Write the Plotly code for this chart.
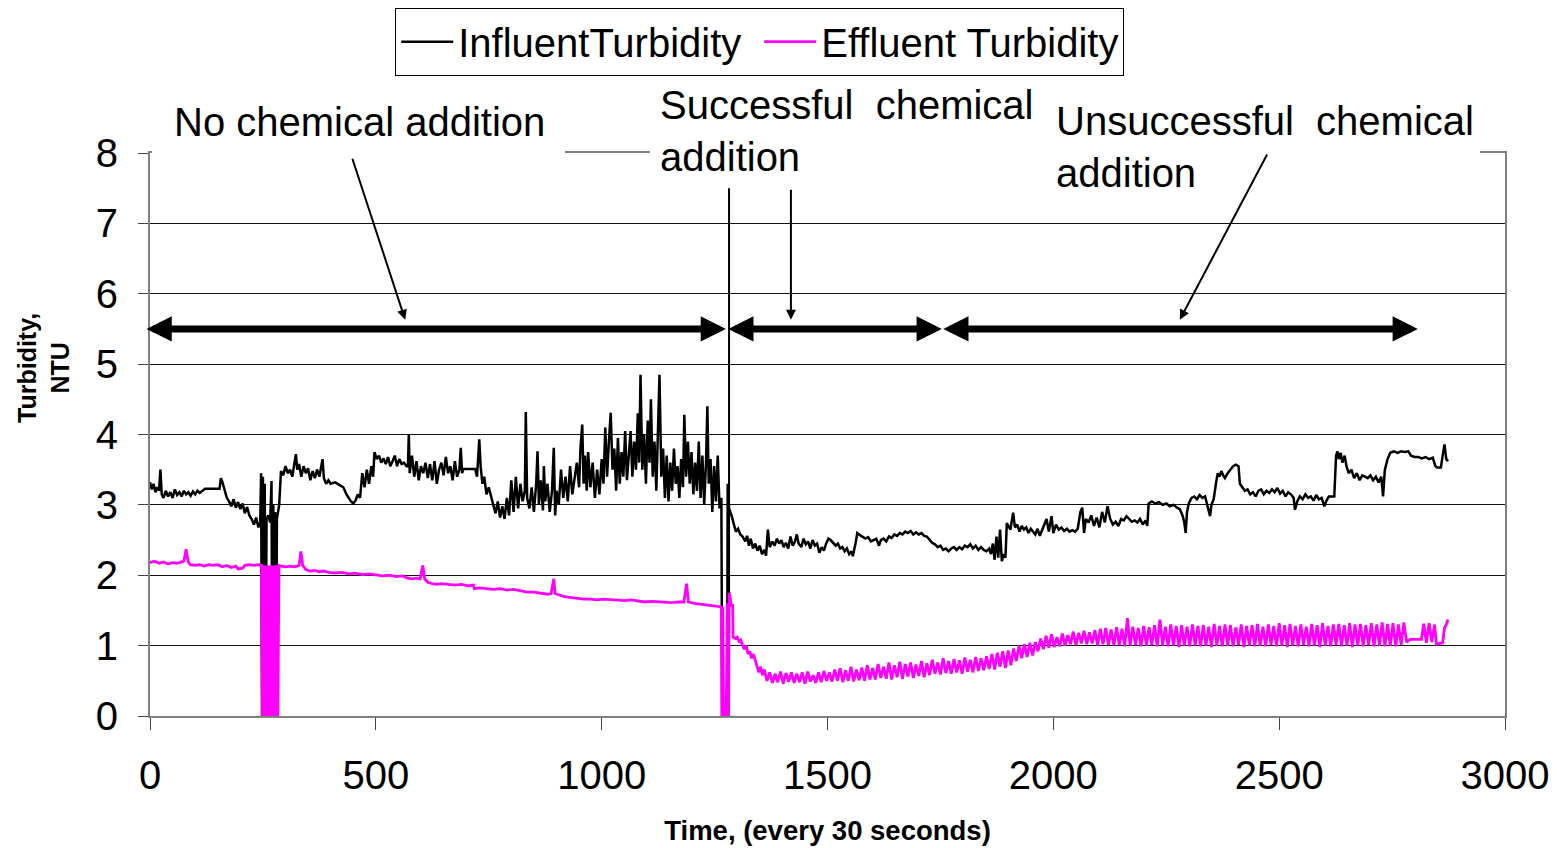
import plotly.graph_objects as go

# ---------------- data (time index, NTU) ----------------
inf_points = [
    (0,3.32),(4,3.22),(8,3.30),(12,3.18),(16,3.25),(20,3.20),(23,3.50),(26,3.15),(30,3.10),(35,3.20),
    (40,3.12),(45,3.18),(50,3.10),(55,3.22),(60,3.14),(65,3.18),(70,3.12),(75,3.20),(80,3.15),(85,3.18),
    (90,3.13),(95,3.19),(100,3.15),(105,3.20),(110,3.17),(122,3.23),(154,3.23),(157,3.38),(160,3.33),(165,3.22),
    (170,3.10),(175,3.05),(180,2.98),(185,3.08),(190,2.96),(195,3.04),(200,2.94),(205,3.02),(210,2.88),(215,2.97),
    (220,2.85),(225,2.80),(230,2.72),(235,2.82),(240,2.68),(244,2.75),(246,3.45),(248,0),(250,3.40),(252,0),
    (254,3.30),(256,0),(258,2.80),(262,2.85),(266,2.75),(269,3.34),(271,0),(273,3.00),(275,0),(277,2.90),
    (279,0),(281,2.80),(286,3.0),(290,3.48),(295,3.42),(300,3.55),(305,3.45),(310,3.50),(315,3.40),(323,3.72),(326,3.50),
    (330,3.58),(335,3.40),(340,3.55),(345,3.45),(350,3.52),(355,3.35),(360,3.48),(365,3.38),(370,3.50),(375,3.40),
    (382,3.65),(385,3.38),(390,3.30),(395,3.35),(400,3.30),(410,3.32),(420,3.28),(428,3.25),(435,3.15),(440,3.10),
    (445,3.05),(450,3.02),(455,3.06),(460,3.15),(465,3.10),(470,3.45),(475,3.25),(480,3.50),(485,3.30),(490,3.55),
    (494,3.40),(497,3.75),(502,3.65),(507,3.70),(512,3.60),(517,3.66),(522,3.58),(527,3.68),(532,3.55),(537,3.62),
    (542,3.70),(547,3.55),(552,3.65),(557,3.58),(562,3.60),(568,3.55),(571,3.55),(573,4.00),(575,3.45),(580,3.70),
    (585,3.40),(590,3.62),(595,3.35),(600,3.55),(605,3.45),(610,3.60),(615,3.38),(620,3.58),(625,3.35),(630,3.62),
    (635,3.30),(640,3.50),(645,3.60),(650,3.42),(655,3.68),(660,3.45),(665,3.55),(670,3.35),(675,3.62),(680,3.40),
    (685,3.50),(688,3.81),(691,3.45),(694,3.51),(720,3.51),(724,3.40),(729,3.93),(732,3.55),(736,3.30),(740,3.40),
    (745,3.15),(750,3.25),(755,3.10),(760,3.00),(765,2.88),(770,3.05),(775,2.82),(780,2.98),(785,2.80),(790,3.10),
    (795,2.85),(800,3.35),(805,2.90),(810,3.40),(815,2.95),(820,3.30),(825,3.05),(830,3.20),(832,4.32),(835,3.10),
    (840,2.95),(845,3.25),(850,2.90),(855,3.30),(858,3.76),(861,3.00),(865,3.35),(870,2.92),(872,3.55),(875,3.05),
    (880,3.30),(885,2.90),(890,3.20),(894,3.81),(897,2.85),(900,3.20),(905,3.00),(910,3.50),(915,3.10),(920,3.40),
    (925,3.05),(930,3.55),(935,3.15),(940,3.35),(945,3.60),(950,3.25),(953,3.80),(957,4.14),(960,3.30),(963,3.70),
    (967,3.20),(970,3.75),(975,3.25),(980,3.60),(985,3.10),(990,3.50),(995,3.15),(1000,3.65),(1004,3.30),(1008,4.10),
    (1012,3.40),(1016,3.90),(1020,4.31),(1024,3.50),(1028,3.80),(1032,3.20),(1036,3.95),(1040,3.30),(1044,3.75),(1048,3.40),
    (1052,4.05),(1056,3.35),(1060,3.70),(1064,4.05),(1068,3.40),(1072,3.90),(1076,3.50),(1080,4.30),(1083,3.60),(1086,4.85),
    (1090,3.50),(1094,4.00),(1098,3.30),(1102,4.20),(1106,3.60),(1109,4.50),(1113,3.40),(1117,3.90),(1121,3.20),(1125,4.30),
    (1128,4.85),(1132,3.40),(1136,3.80),(1140,3.10),(1144,3.70),(1148,3.05),(1152,3.60),(1156,3.20),(1160,3.80),(1164,3.30),
    (1168,3.55),(1172,3.10),(1176,3.65),(1180,3.25),(1183,4.28),(1187,3.40),(1191,3.90),(1195,3.30),(1199,3.75),(1203,3.15),
    (1207,3.60),(1211,3.20),(1215,3.90),(1219,3.10),(1223,3.70),(1227,3.00),(1231,3.60),(1234,4.40),(1237,3.30),(1241,3.65),
    (1245,2.90),(1249,3.55),(1253,3.05),(1257,3.70),(1261,2.95),(1265,3.10),(1267,0),(1276,0),(1278,0.5),(1279,3.30),
    (1282,2.95),(1288,2.84),(1292,2.72),(1297,2.62),(1302,2.66),(1307,2.58),(1312,2.55),(1318,2.48),(1322,2.56),(1326,2.42),
    (1330,2.52),(1335,2.38),(1340,2.45),(1345,2.35),(1350,2.42),(1355,2.30),(1360,2.36),(1364,2.28),(1368,2.65),(1372,2.40),
    (1378,2.48),(1383,2.42),(1388,2.52),(1393,2.45),(1398,2.50),(1403,2.40),(1408,2.46),(1413,2.38),(1418,2.55),(1423,2.42),
    (1428,2.48),(1432,2.58),(1436,2.45),(1442,2.40),(1447,2.52),(1452,2.44),(1457,2.48),(1462,2.38),(1467,2.50),(1472,2.42),
    (1477,2.45),(1482,2.32),(1487,2.40),(1492,2.35),(1497,2.45),(1502,2.52),(1507,2.50),(1512,2.46),(1518,2.42),(1523,2.45),
    (1528,2.38),(1533,2.40),(1538,2.34),(1543,2.38),(1548,2.30),(1553,2.34),(1556,2.27),(1562,2.45),(1566,2.60),(1572,2.57),
    (1578,2.55),(1584,2.52),(1590,2.54),(1596,2.48),(1602,2.50),(1608,2.52),(1614,2.42),(1618,2.50),(1624,2.52),(1630,2.48),
    (1636,2.55),(1642,2.53),(1648,2.58),(1654,2.56),(1660,2.60),(1666,2.58),(1672,2.62),(1678,2.60),(1684,2.63),(1690,2.58),
    (1696,2.61),(1702,2.58),(1708,2.60),(1714,2.56),(1720,2.55),(1726,2.50),(1732,2.46),(1738,2.44),(1744,2.40),(1750,2.42),
    (1756,2.36),(1762,2.38),(1768,2.34),(1774,2.38),(1780,2.40),(1786,2.36),(1792,2.40),(1798,2.37),(1804,2.42),(1810,2.40),
    (1816,2.44),(1822,2.38),(1828,2.42),(1834,2.36),(1840,2.40),(1846,2.36),(1852,2.34),(1858,2.38),(1862,2.30),(1866,2.45),
    (1870,2.22),(1874,2.55),(1878,2.25),(1882,2.65),(1886,2.20),(1890,2.30),(1894,2.25),(1897,2.74),(1900,2.70),(1905,2.65),
    (1911,2.89),(1915,2.68),(1920,2.72),(1925,2.62),(1930,2.70),(1935,2.65),(1940,2.68),(1945,2.60),(1950,2.66),(1955,2.62),
    (1960,2.58),(1965,2.66),(1970,2.56),(1975,2.64),(1980,2.72),(1985,2.80),(1990,2.62),(1996,2.84),(2000,2.60),(2006,2.72),
    (2012,2.65),(2018,2.68),(2024,2.63),(2030,2.66),(2036,2.62),(2042,2.64),(2048,2.62),(2054,2.66),(2060,2.90),(2064,2.96),
    (2068,2.60),(2072,2.80),(2078,2.75),(2084,2.85),(2090,2.70),(2096,2.82),(2102,2.68),(2108,2.90),(2114,2.75),(2120,2.98),
    (2126,2.80),(2132,2.72),(2138,2.76),(2144,2.70),(2150,2.80),(2156,2.78),(2162,2.84),(2168,2.80),(2174,2.76),(2180,2.78),
    (2186,2.75),(2192,2.80),(2198,2.72),(2204,2.78),(2208,2.70),(2211,3.02),(2218,3.05),(2226,3.02),(2234,3.04),(2242,3.00),
    (2250,3.02),(2258,2.98),(2266,3.00),(2274,2.96),(2280,2.94),(2286,2.85),(2290,2.75),(2293,2.60),(2296,2.90),(2300,3.02),
    (2306,3.10),(2312,3.12),(2318,3.08),(2324,3.14),(2330,3.10),(2336,3.12),(2340,3.00),(2344,2.90),(2347,2.84),(2350,3.00),
    (2355,3.08),(2360,3.30),(2364,3.45),(2368,3.40),(2372,3.48),(2376,3.42),(2380,3.38),(2386,3.45),(2392,3.50),(2398,3.55),
    (2404,3.57),(2410,3.55),(2413,3.30),(2418,3.25),(2424,3.20),(2430,3.22),(2436,3.15),(2442,3.18),(2448,3.12),(2454,3.20),
    (2460,3.22),(2466,3.15),(2472,3.20),(2478,3.17),(2484,3.22),(2490,3.18),(2496,3.24),(2502,3.16),(2508,3.20),(2514,3.12),
    (2520,3.18),(2526,3.15),(2532,3.10),(2535,2.93),(2540,3.05),(2546,3.12),(2552,3.08),(2558,3.15),(2564,3.10),(2570,3.12),
    (2576,3.06),(2582,3.14),(2588,3.08),(2594,3.10),(2600,2.98),(2604,3.05),(2610,3.12),(2622,3.12),(2626,3.70),(2629,3.76),
    (2632,3.65),(2636,3.74),(2640,3.60),(2645,3.70),(2649,3.55),(2654,3.45),(2660,3.50),(2666,3.38),(2672,3.45),(2678,3.35),
    (2684,3.42),(2690,3.40),(2696,3.38),(2702,3.42),(2708,3.35),(2714,3.40),(2720,3.32),(2726,3.40),(2730,3.12),(2734,3.50),
    (2740,3.65),(2746,3.74),(2754,3.76),(2762,3.74),(2770,3.76),(2778,3.75),(2786,3.76),(2792,3.70),(2800,3.68),(2808,3.68),
    (2816,3.66),(2824,3.68),(2832,3.65),(2840,3.67),(2846,3.55),(2850,3.53),(2858,3.53),(2862,3.70),(2866,3.86),(2870,3.65),
    (2874,3.62),
]

eff_points = [
    (0,2.18),(10,2.20),(20,2.17),(30,2.19),(40,2.16),(50,2.18),(60,2.17),(70,2.19),(75,2.20),(80,2.37),
    (84,2.20),(89,2.15),(100,2.14),(110,2.15),(120,2.13),(130,2.15),(140,2.14),(150,2.15),(160,2.12),(170,2.14),
    (180,2.11),(190,2.13),(195,2.09),(205,2.10),(210,2.14),(220,2.15),(230,2.14),(240,2.15),(247,2.14),(249,0),
    (251,2.14),(253,0),(255,2.14),(257,0),(259,2.14),(261,0),(263,2.14),(265,0),(267,2.14),(268,2.13),
    (271,0),(273,2.14),(275,0),(277,2.14),(279,0),(281,2.14),(283,0),(285.5,2.14),(290,2.13),(300,2.12),
    (310,2.13),(320,2.12),(330,2.14),(334,2.34),(338,2.14),(345,2.08),(355,2.06),(365,2.07),(375,2.05),(385,2.06),
    (395,2.04),(410,2.03),(425,2.04),(440,2.02),(455,2.03),(470,2.01),(485,2.02),(500,2.00),(515,1.99),(530,2.00),
    (545,1.98),(560,1.99),(570,1.96),(580,1.95),(590,1.96),(598,1.95),(604,2.14),(608,1.95),(615,1.90),(625,1.88),
    (635,1.87),(645,1.88),(660,1.87),(675,1.86),(690,1.87),(705,1.85),(716,1.86),(718,1.81),(730,1.82),(745,1.81),
    (760,1.80),(775,1.81),(790,1.79),(805,1.80),(820,1.78),(835,1.76),(850,1.76),(865,1.74),(880,1.73),(888,1.74),
    (894,1.95),(897,1.74),(905,1.72),(915,1.70),(925,1.69),(935,1.68),(945,1.67),(960,1.66),(975,1.66),(990,1.65),
    (1005,1.66),(1020,1.65),(1035,1.65),(1050,1.64),(1065,1.65),(1078,1.64),(1095,1.62),(1110,1.63),(1125,1.62),(1140,1.62),
    (1155,1.61),(1170,1.62),(1182,1.62),(1188,1.88),(1192,1.62),(1205,1.60),(1220,1.59),(1235,1.58),(1250,1.57),(1260,1.56),
    (1265,1.55),(1266,0),(1268,1.55),(1270,0),(1276,0),(1278,1.60),(1279,0),(1281,0),(1282,1.76),(1284,1.70),
    (1287,1.57),(1290,1.57),(1291,1.12),(1296,1.10),(1300,1.12),(1304,1.06),(1308,1.08),(1312,1.00),(1316,0.95),(1320,1.00),
    (1324,0.88),(1328,0.92),(1332,0.82),(1336,0.88),(1340,0.80),(1344,0.72),(1348,0.62),(1352,0.70),(1356,0.58),(1360,0.66),
    (1364,0.56),
]

# oscillating effluent readings sampled every 6 intervals from t = 1366
eff_osc_start = 1366
eff_osc_step = 6
eff_osc_values = [
    0.50,0.62,0.47,0.60,0.48,0.63,0.46,0.61,0.49,0.62,
    0.47,0.60,0.48,0.62,0.46,0.63,0.49,0.58,0.47,0.62,
    0.48,0.64,0.50,0.62,0.49,0.66,0.50,0.68,0.48,0.65,
    0.50,0.70,0.49,0.66,0.51,0.69,0.50,0.72,0.52,0.68,
    0.52,0.74,0.54,0.70,0.53,0.76,0.52,0.72,0.55,0.77,
    0.53,0.74,0.56,0.76,0.54,0.73,0.57,0.78,0.55,0.75,
    0.58,0.80,0.60,0.76,0.59,0.82,0.61,0.78,0.60,0.81,
    0.62,0.79,0.60,0.83,0.63,0.80,0.62,0.84,0.64,0.82,
    0.65,0.85,0.67,0.88,0.66,0.90,0.70,0.92,0.68,0.93,
    0.72,0.96,0.78,1.00,0.82,1.02,0.84,1.04,0.86,1.05,
    0.92,1.10,0.95,1.14,0.97,1.16,0.98,1.12,0.99,1.17,
    1.00,1.15,1.02,1.20,1.01,1.18,1.03,1.21,1.02,1.19,
    1.03,1.22,1.00,1.24,1.02,1.25,1.01,1.23,1.00,1.26,
    1.01,1.24,0.99,1.39,1.00,1.27,1.01,1.25,0.99,1.28,
    1.00,1.26,1.01,1.29,0.99,1.37,1.00,1.27,0.99,1.30,
    1.00,1.28,0.98,1.29,1.00,1.27,0.99,1.30,1.00,1.28,
    0.99,1.29,1.00,1.27,0.98,1.31,1.00,1.28,0.99,1.30,
    1.00,1.29,0.99,1.26,1.01,1.30,0.98,1.28,1.00,1.29,
    0.99,1.31,1.00,1.27,0.99,1.30,1.01,1.28,0.99,1.32,
    1.00,1.29,0.98,1.31,1.00,1.28,0.99,1.30,1.01,1.27,
    0.99,1.31,1.00,1.29,0.98,1.32,1.00,1.28,0.99,1.30,
    1.01,1.31,0.99,1.29,1.00,1.32,0.98,1.30,1.00,1.31,
    0.99,1.29,1.01,1.32,0.99,1.30,1.00,1.33,0.99,1.31,
    1.00,1.32,0.99,1.30,1.01,1.33,1.05,
]

eff_tail_points = [
    (2790,1.09),(2815,1.09),(2820,1.31),(2826,1.04),(2832,1.32),(2838,1.05),(2844,1.30),(2848,1.02),
    (2862,1.04),(2866,1.25),(2870,1.30),(2874,1.37),
]

series_names = ["InfluentTurbidity", "Effluent Turbidity"]
x_ticks = [0, 500, 1000, 1500, 2000, 2500, 3000]
y_ticks = [0, 1, 2, 3, 4, 5, 6, 7, 8]

inf_t = [p[0] for p in inf_points]
inf_v = [p[1] for p in inf_points]
eff_t = ([p[0] for p in eff_points]
         + [eff_osc_start + eff_osc_step * i for i in range(len(eff_osc_values))]
         + [p[0] for p in eff_tail_points])
eff_v = [p[1] for p in eff_points] + eff_osc_values + [p[1] for p in eff_tail_points]

FONT = "Liberation Sans, Arial, sans-serif"

fig = go.Figure()
fig.add_trace(go.Scatter(x=inf_t, y=inf_v, mode="lines", name=series_names[0],
                         line=dict(color="black", width=2.5)))
fig.add_trace(go.Scatter(x=eff_t, y=eff_v, mode="lines", name=series_names[1],
                         line=dict(color="#FF00FF", width=2.8)))

# plot area: x 150..1505 px, y 153..716 px
def px_x(p):
    return (p - 150) / 1355.0

def px_y(p):
    return (716 - p) / 563.0

shapes = []
# white text boxes that hide the top frame line behind the labels
for (x0, x1, y0, y1) in [(152, 565, 95, 158), (650, 1045, 85, 186), (1045, 1480, 95, 195)]:
    shapes.append(dict(type="rect", xref="paper", yref="paper",
                       x0=px_x(x0), x1=px_x(x1), y0=px_y(y1), y1=px_y(y0),
                       fillcolor="white", line=dict(width=0), layer="above"))
# vertical pointer line from the "Successful" label
shapes.append(dict(type="line", xref="x", yref="y", x0=1282, x1=1282, y0=7.5, y1=1.75,
                   line=dict(color="black", width=2), layer="above"))

annotations = []
annotations.append(dict(text="No chemical addition", xref="paper", yref="paper",
                        x=px_x(359), y=px_y(122), xanchor="center", yanchor="middle",
                        showarrow=False, font=dict(size=40, family=FONT, color="black")))
annotations.append(dict(text="Successful  chemical<br>addition", xref="paper", yref="paper",
                        x=px_x(658), y=px_y(131), xanchor="left", yanchor="middle", align="left",
                        showarrow=False, font=dict(size=40, family=FONT, color="black")))
annotations.append(dict(text="Unsuccessful  chemical<br>addition", xref="paper", yref="paper",
                        x=px_x(1054), y=px_y(147), xanchor="left", yanchor="middle", align="left",
                        showarrow=False, font=dict(size=40, family=FONT, color="black")))
# y axis title
annotations.append(dict(text="<b>Turbidity,<br>NTU</b>", xref="paper", yref="paper",
                        x=px_x(43), y=px_y(368), xanchor="center", yanchor="middle",
                        textangle=-90, showarrow=False,
                        font=dict(size=25, family=FONT, color="black")))
# thin pointer arrows
for (hx, hy, tx, ty) in [(565, 5.63, 447, 7.94), (1419, 5.63, 1419, 7.5), (2280, 5.63, 2475, 8.0)]:
    annotations.append(dict(text="", x=hx, y=hy, ax=tx, ay=ty, xref="x", yref="y",
                            axref="x", ayref="y", showarrow=True, arrowhead=2, arrowsize=1,
                            arrowwidth=2, arrowcolor="black", standoff=0))
# thick double-headed period arrows
for (x0, x1) in [(-11, 1275), (1277, 1753), (1753, 2807)]:
    annotations.append(dict(text="", x=x1, y=5.5, ax=x0, ay=5.5, xref="x", yref="y",
                            axref="x", ayref="y", showarrow=True, arrowhead=2, startarrowhead=2,
                            arrowside="end+start", arrowsize=0.72, startarrowsize=0.72,
                            arrowwidth=7, arrowcolor="black", standoff=0, startstandoff=0))

fig.update_layout(
    width=1557, height=848,
    margin=dict(l=150, r=52, t=153, b=132, autoexpand=False),
    paper_bgcolor="white", plot_bgcolor="white",
    font=dict(family=FONT, size=40, color="black"),
    showlegend=True,
    legend=dict(orientation="h", x=px_x(395), xanchor="left", y=px_y(8), yanchor="top",
                bordercolor="black", borderwidth=1.2, bgcolor="white",
                font=dict(size=40, family=FONT, color="black"),
                itemwidth=52, entrywidth=296, entrywidthmode="pixels"),
    xaxis=dict(range=[0, 3000], tickvals=x_ticks, showgrid=False, zeroline=False,
               ticks="outside", ticklen=12, tickwidth=1, tickcolor="#444",
               showline=True, linecolor="#808080", linewidth=2, mirror=True,
               tickfont=dict(size=40), ticklabelstandoff=11,
               title=dict(text="<b>Time, (every 30 seconds)</b>", font=dict(size=27.5), standoff=25)),
    yaxis=dict(range=[0, 8], tickvals=y_ticks, showgrid=True, gridcolor="#111", gridwidth=1.2,
               zeroline=False, ticks="outside", ticklen=10, tickwidth=1, tickcolor="#444",
               showline=True, linecolor="#808080", linewidth=2, mirror=True,
               tickfont=dict(size=40), ticklabelstandoff=12),
    shapes=shapes,
    annotations=annotations,
)

fig.write_html("out.html")
